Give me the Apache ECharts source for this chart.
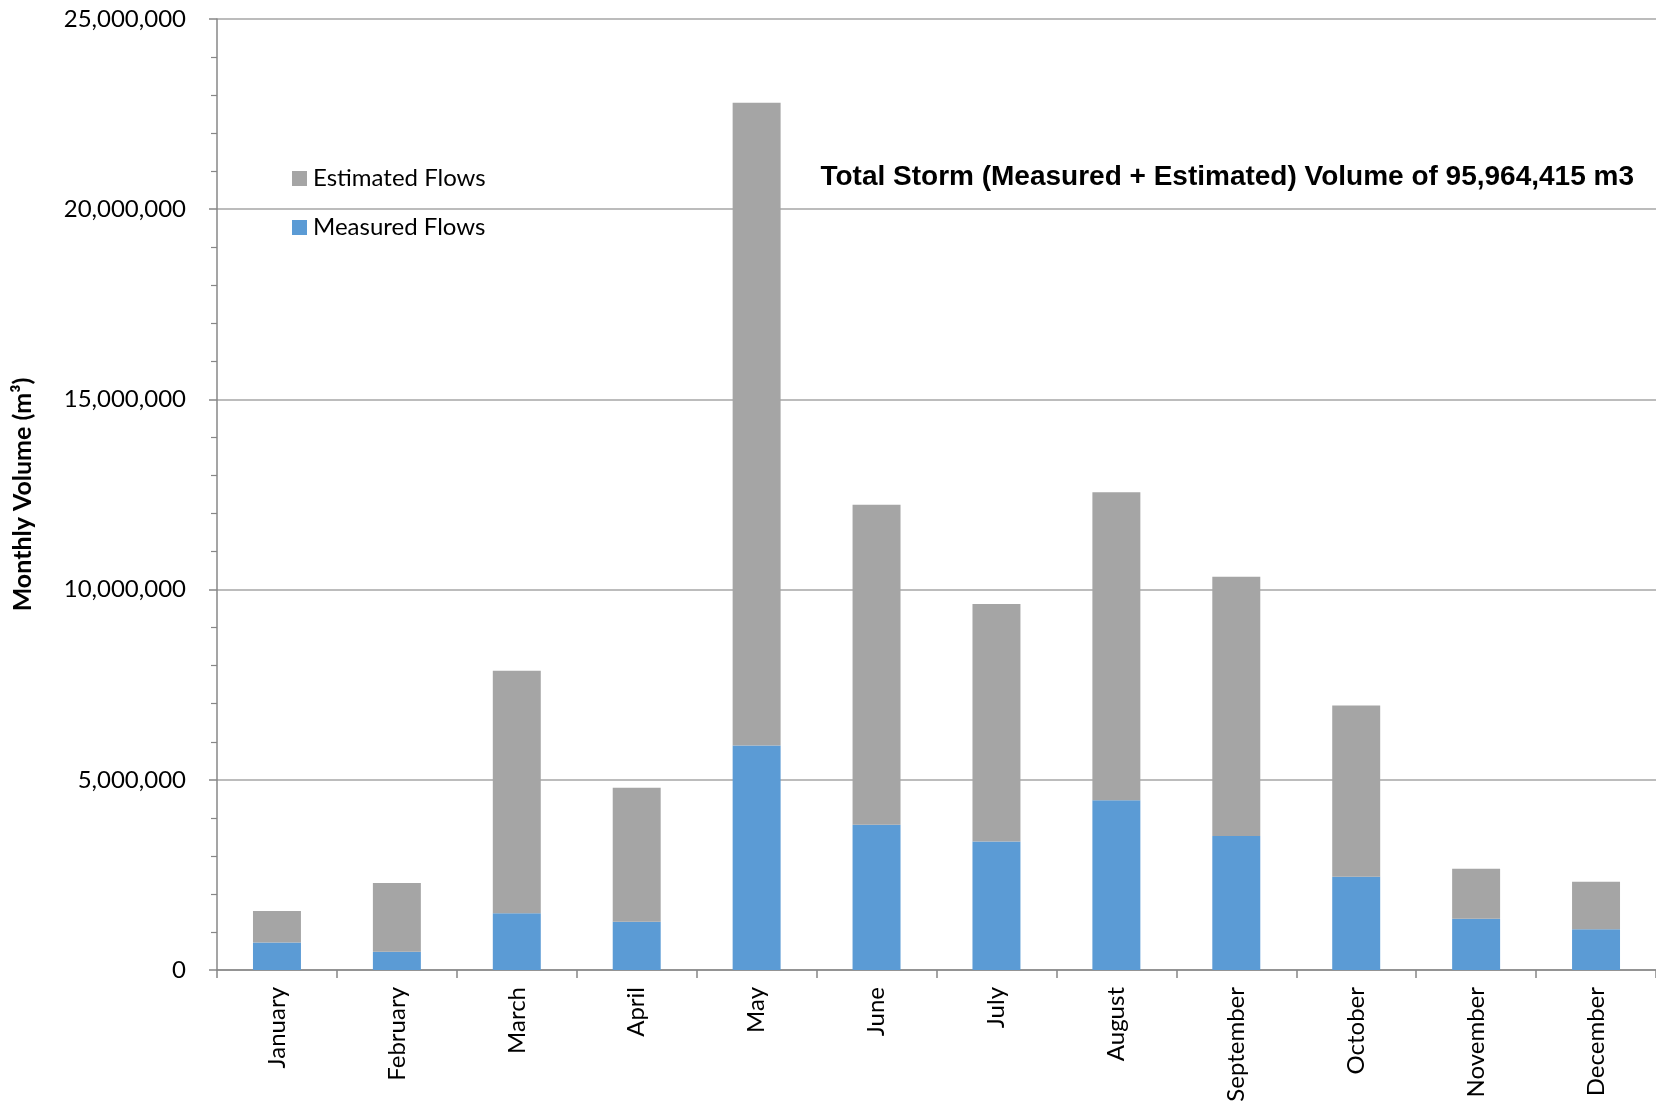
<!DOCTYPE html>
<html>
<head>
<meta charset="utf-8">
<title>Monthly Storm Volume</title>
<script src="https://cdn.jsdelivr.net/npm/echarts@6/dist/echarts.min.js"></script>
<style>
  html, body { margin: 0; padding: 0; background: #fff; }
  #chart { width: 1656px; height: 1110px; }
</style>
</head>
<body>
<div id="chart"></div>
<script>
// months on the x axis
const months = [
  "January", "February", "March", "April", "May", "June",
  "July", "August", "September", "October", "November", "December",
];

// measured part of each month (m3)
const measuredFlows = [
  720000, 480000, 1490000, 1270000, 5900000, 3820000,
  3380000, 4460000, 3520000, 2450000, 1350000, 1070000,
];

// estimated part stacked on top (total - measured)
const estimatedFlows = [
  830000, 1810000, 6380000, 3520000, 16900000, 8410000,
  6240000, 8100000, 6820000, 4500000, 1310000, 1250000,
];

const yTicks = { min: 0, max: 25000000, step: 5000000 };
const titleText = "Total Storm (Measured + Estimated) Volume of 95,964,415 m3";

const myChart = echarts.init(document.getElementById("chart"));

const axisGrey = "#878787";
const labelFont = "Lato";

const option = {
  animation: false,
  backgroundColor: "#ffffff",
  title: {
    text: titleText,
    right: 17,
    top: 158,
    textStyle: {
      fontFamily: "Liberation Sans",
      fontWeight: "bold",
      fontSize: 28,
      color: "#000",
    },
  },
  legend: {
    data: ["Estimated Flows", "Measured Flows"],
    orient: "vertical",
    left: 287,
    top: 161,
    itemWidth: 15,
    itemHeight: 15,
    itemGap: 24,
    icon: "rect",
    textStyle: {
      fontFamily: labelFont,
      fontSize: 24,
      color: "#000",
      lineHeight: 25,
      padding: [0, 0, 0, 1],
    },
  },
  grid: {
    left: 217,
    right: 0,
    top: 19,
    bottom: 140,
    containLabel: false,
    outerBoundsMode: "none",
  },
  xAxis: {
    type: "category",
    data: months,
    boundaryGap: true,
    axisLine: { lineStyle: { color: axisGrey, width: 1.5 } },
    axisTick: {
      show: true,
      interval: 0,
      length: 8,
      lineStyle: { color: axisGrey, width: 1.5 },
    },
    axisLabel: {
      interval: 0,
      rotate: 90,
      margin: 17,
      fontFamily: labelFont,
      fontSize: 24,
      color: "#000",
    },
  },
  yAxis: {
    type: "value",
    min: yTicks.min,
    max: yTicks.max,
    interval: yTicks.step,
    name: "Monthly Volume (m³)",
    nameLocation: "middle",
    nameGap: 182,
    nameTextStyle: {
      fontFamily: labelFont,
      fontWeight: "bold",
      fontSize: 25,
      color: "#000",
    },
    axisLine: { show: true, lineStyle: { color: axisGrey, width: 1.5 } },
    axisTick: {
      show: true,
      length: 8,
      lineStyle: { color: axisGrey, width: 1.5 },
    },
    minorTick: {
      show: true,
      splitNumber: 5,
      length: 6,
      lineStyle: { color: axisGrey, width: 1.2 },
    },
    splitLine: {
      show: true,
      lineStyle: { color: "#a6a6a6", width: 1.5 },
    },
    axisLabel: {
      margin: 31,
      fontFamily: labelFont,
      fontSize: 24,
      color: "#000",
      formatter: (v) => v.toLocaleString("en-US"),
    },
  },
  series: [
    {
      name: "Measured Flows",
      type: "bar",
      stack: "total",
      barWidth: "40%",
      itemStyle: { color: "#5b9bd5" },
      data: measuredFlows,
    },
    {
      name: "Estimated Flows",
      type: "bar",
      stack: "total",
      barWidth: "40%",
      itemStyle: { color: "#a5a5a5" },
      data: estimatedFlows,
    },
  ],
};

myChart.setOption(option);
window.onresize = function () {
  myChart.resize();
};
</script>
</body>
</html>
